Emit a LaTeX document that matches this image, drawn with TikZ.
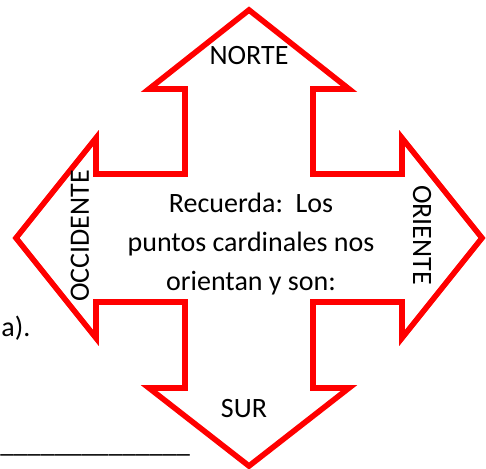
\documentclass[tikz,border=0pt]{standalone}
\usepackage{fontspec}
\setmainfont{Carlito}
\begin{document}
\begin{tikzpicture}[x=0.5pt, y=0.5pt, font=\fontsize{14}{19.5}\selectfont,
    rumbo/.style={inner sep=0pt, anchor=base}]
        % Marco
        \useasboundingbox (-249,-231) rectangle (237,238);
        % Flecha de cuatro puntas
        \draw[line width=2.8pt, draw=red] (0,228)-- (100,149)-- (64,149)-- (64,64)-- (153,64)-- (153,100)-- (233,0)-- (153,-100)-- (153,-64)-- (64,-64)-- (64,-150)-- (100,-150)-- (0,-228)-- (-100,-150)-- (-64,-150)-- (-64,-64)-- (-153,-64)-- (-153,-100)-- (-233,0)-- (-153,100)-- (-153,64)-- (-64,64)-- (-64,149)-- (-100,149)-- cycle;
        % Puntos cardinales
        \node[rumbo] (norte) at (0,173) {NORTE};
        \node[rumbo] (sur) at (-5,-180) {SUR};
        \node[rumbo, rotate=90] (occidente) at (-160,2) {OCCIDENTE};
        \node[rumbo, rotate=-90] (oriente) at (164,3) {ORIENTE};
        % Texto central
        \node[align=center, inner sep=0pt] (recuerda) at (2,-6) {Recuerda:\ \ Los\\puntos cardinales nos\\orientan y son:};
        % Restos del texto de la hoja
        \node[inner sep=0pt, anchor=base west] (inciso) at (-248,-99) {a).};
        \node[inner sep=0pt, anchor=base west, font=\fontsize{13.6}{16}\selectfont] (renglon) at (-249,-215) {\_\_\_\_\_\_\_\_\_\_\_\_\_\_};
\end{tikzpicture}
\end{document}
